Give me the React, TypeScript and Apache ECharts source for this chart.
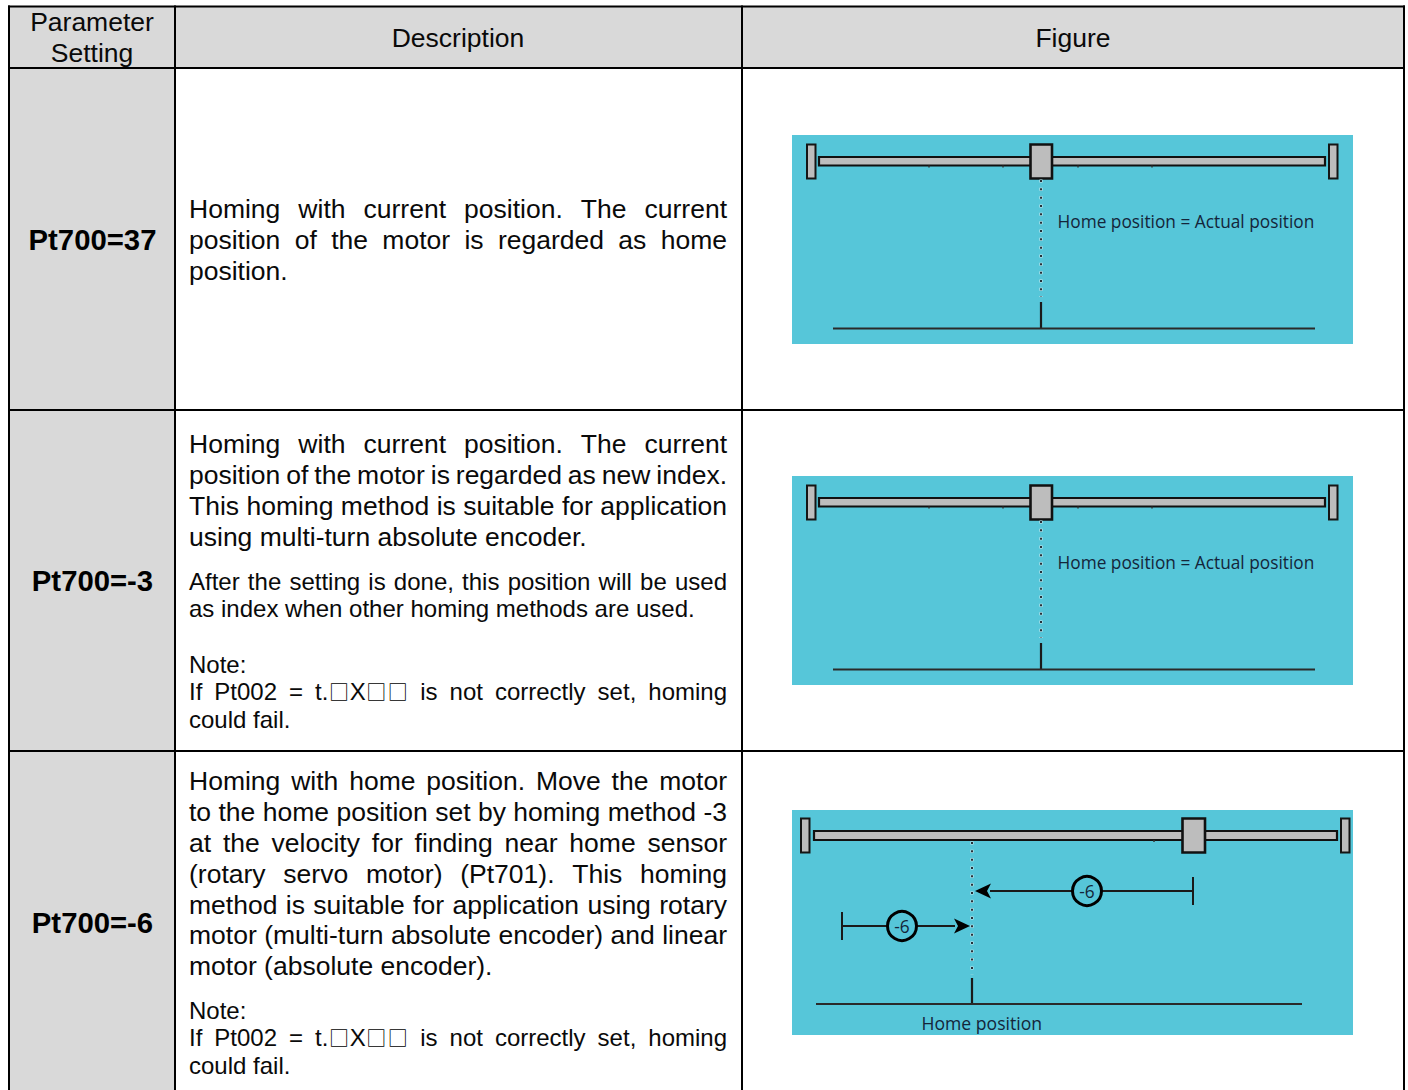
import React, { useEffect, useRef } from "react";
import * as echarts from "echarts";

const headers = ["Description", "Figure"];
const headerFirst = ["Parameter", "Setting"];
const params = ["Pt700=37", "Pt700=-3", "Pt700=-6"];
const row1Text = [
  "Homing with current position. The current",
  "position of the motor is regarded as home",
  "position.",
];
const row2TextA = [
  "Homing with current position. The current",
  "position of the motor is regarded as new index.",
  "This homing method is suitable for application",
  "using multi-turn absolute encoder.",
];
const row2TextB = [
  "After the setting is done, this position will be used",
  "as index when other homing methods are used.",
];
const noteLines = ["Note:", "If Pt002 = t.□X□□ is not correctly set, homing", "could fail."];
const row3Text = [
  "Homing with home position. Move the motor",
  "to the home position set by homing method -3",
  "at the velocity for finding near home sensor",
  "(rotary servo motor) (Pt701). This homing",
  "method is suitable for application using rotary",
  "motor (multi-turn absolute encoder) and linear",
  "motor (absolute encoder).",
];
const figLabelA = "Home position = Actual position";
const figLabelB = "Home position";
const arrowLabel = "-6";

const FONT = '"Liberation Sans", sans-serif';
const BOXFONT = '"Noto Sans CJK SC", sans-serif';
const FIGFONT = '"Open Sans", sans-serif';
const GRAY = "#d9d9d9";
const LINE = "#000";
const TEAL = "#56c6d9";
const STEEL = "#bdbdbd";
const BOXSIZE = 20;
const BOXADV = 21.3;

const ctx = document.createElement("canvas").getContext("2d")!;
function width(s: string, size: number) {
  let total = 0;
  ctx.font = `${size}px ${FONT}`;
  s.split(/(□)/).forEach((run) => {
    if (run === "□") total += BOXADV;
    else if (run) total += ctx.measureText(run).width;
  });
  return total;
}

const L = 189;
const R = 727;

function txt(x: number, y: number, s: string, size: number, opts: any = {}) {
  return {
    type: "text",
    x,
    y,
    silent: true,
    style: {
      text: s,
      fontSize: size,
      fontFamily: FONT,
      fill: "#0a0a0a",
      textAlign: "left",
      textVerticalAlign: "middle",
      verticalAlign: "middle",
      ...opts,
    },
  };
}

function word(x0: number, y: number, w: string, size: number) {
  if (!w.includes("□")) return [txt(x0, y, w, size)];
  const out: any[] = [];
  let x = x0;
  w.split(/(□)/).forEach((run) => {
    if (run === "□") {
      out.push(txt(x + (BOXADV - BOXSIZE) / 2, y, run, BOXSIZE, { fontFamily: BOXFONT, fill: "#000" }));
      x += BOXADV;
    } else if (run) {
      out.push(txt(x, y, run, size));
      x += width(run, size);
    }
  });
  return out;
}

function para(lines: string[], ys: number[], size: number, lastFree = true) {
  const out: any[] = [];
  lines.forEach((line, i) => {
    const free = lastFree && i === lines.length - 1;
    if (free || !line.includes(" ")) {
      out.push(txt(L, ys[i], line, size));
      return;
    }
    const words = line.split(" ");
    const total = words.reduce((a, w) => a + width(w, size), 0);
    const gap = (R - L - total) / (words.length - 1);
    let x = L;
    words.forEach((w) => {
      out.push(...word(x, ys[i], w, size));
      x += width(w, size) + gap;
    });
  });
  return out;
}

function rect(x0: number, y0: number, x1: number, y1: number, fill: string, stroke?: string, lw = 2) {
  return {
    type: "rect",
    silent: true,
    shape: { x: x0, y: y0, width: x1 - x0, height: y1 - y0 },
    style: { fill, stroke: stroke ?? "none", lineWidth: stroke ? lw : 0 },
  };
}
function seg(x0: number, y0: number, x1: number, y1: number, stroke = "#1a1a1a", lw = 2) {
  return {
    type: "line",
    silent: true,
    shape: { x1: x0, y1: y0, x2: x1, y2: y1 },
    style: { stroke, lineWidth: lw },
  };
}
function dots(x: number, y0: number, y1: number) {
  return [
    {
      type: "line",
      silent: true,
      shape: { x1: x, y1: y0 - 0.5, x2: x, y2: y1 },
      style: { stroke: "#cfeaef", lineWidth: 3, lineDash: [3, 5.33] },
    },
    {
      type: "line",
      silent: true,
      shape: { x1: x, y1: y0, x2: x, y2: y1 },
      style: { stroke: "#26323a", lineWidth: 2, lineDash: [2, 6.33] },
    },
  ];
}

function rail(dy: number, s: any) {
  const ticks = (s.ticks as number[]).map((x) => seg(x, s.by1 + dy, x, s.by1 + 2 + dy, "#333", 1.5));
  return [
    rect(s.lx0, s.sy0 + dy, s.lx1, s.sy1 + dy, STEEL, "#151515", 2),
    rect(s.rx0, s.sy0 + dy, s.rx1, s.sy1 + dy, STEEL, "#151515", 2),
    rect(s.bx0, s.by0 + dy, s.bx1, s.by1 + dy, STEEL, "#111", 2.2),
    ...ticks,
    rect(s.cx0, s.sy0 + dy, s.cx1, s.sy1 + dy, STEEL, "#111", 2.6),
  ];
}

function figText(x: number, y: number, s: string, align = "left", size = 17.3) {
  return {
    ...txt(x, y, s, size),
    style: { ...txt(0, 0, s, size).style, fontFamily: FIGFONT, fill: "#14253a", textAlign: align },
  };
}

function figure1(dy: number) {
  const hx = 1041;
  return [
    rect(792, 135 + dy, 1353, 344 + dy, TEAL),
    ...rail(dy, { lx0: 807, lx1: 815.5, rx0: 1329, rx1: 1337.5, bx0: 819, bx1: 1325, by0: 157, by1: 165.5, cx0: 1030.5, cx1: 1052, sy0: 144.5, sy1: 178.5, ticks: [929, 1003, 1078, 1152] }),
    ...dots(hx, 180 + dy, 297 + dy),
    seg(hx, 302 + dy, hx, 329 + dy, "#1a1a1a", 2.2),
    seg(833, 328.5 + dy, 1315, 328.5 + dy, "#2a2a2a", 2),
    figText(1057.5, 221.5 + dy, figLabelA),
  ];
}

function arrowRow(y: number, tickX: number, tipX: number, baseX: number, cx: number) {
  const dir = tipX > baseX ? 1 : -1;
  return [
    seg(tickX, y, baseX, y, "#1a1a1a", 2),
    seg(tickX, y - 14, tickX, y + 14, "#1a1a1a", 2),
    { type: "polygon", silent: true, shape: { points: [[tipX, y], [baseX - dir * 1, y - 7.5], [baseX + dir * 3, y], [baseX - dir * 1, y + 7.5]] }, style: { fill: "#000" } },
    { type: "circle", silent: true, shape: { cx, cy: y, r: 14.5 }, style: { fill: TEAL, stroke: "#000", lineWidth: 3 } },
    figText(cx, y, arrowLabel, "center"),
  ];
}

function figure3() {
  const hx = 972;
  return [
    rect(792, 810, 1353, 1035, TEAL),
    ...rail(0, { lx0: 801, lx1: 809.5, rx0: 1341, rx1: 1349.5, bx0: 814, bx1: 1337, by0: 831, by1: 840, cx0: 1182.5, cx1: 1205, sy0: 818.5, sy1: 852.5, ticks: [1154] }),
    ...dots(hx, 842, 975),
    seg(hx, 978, hx, 1005, "#1a1a1a", 2.2),
    seg(816, 1004, 1302, 1004, "#2a2a2a", 2),
    ...arrowRow(891, 1193, 975, 990, 1087),
    ...arrowRow(926, 842, 970, 955, 902),
    figText(921.5, 1023, figLabelB, "left", 17.6),
  ];
}

function tableCells() {
  const xs = [9, 175, 742, 1404];
  const ys = [6.5, 68, 410, 751];
  const out: any[] = [
    rect(9, 6.5, 1404, 68, GRAY),
    rect(9, 68, 175, 1090, GRAY),
    rect(175, 68, 1404, 1090, "#fff"),
  ];
  xs.forEach((x) => out.push(seg(x, 5.5, x, 1090, LINE, 2)));
  ys.forEach((y) => out.push(seg(8, y, 1405, y, LINE, 2)));
  return out;
}

function center(x: number, y: number, s: string, size: number, bold = false) {
  return txt(x, y, s, size, { textAlign: "center", fontWeight: bold ? "bold" : "normal", fill: bold ? "#000" : "#0a0a0a" });
}

export default function App() {
  const ref = useRef<HTMLDivElement>(null);
  useEffect(() => {
    document.body.style.margin = "0";
    const chart = echarts.init(ref.current!, null, { renderer: "svg", width: 1408, height: 1090 });
    const BODY = 26.5;
    const SMALL = 24;
    chart.setOption({
      animation: false,
      backgroundColor: "#fff",
      graphic: {
        elements: [
          ...tableCells(),
          center(92, 22, headerFirst[0], BODY),
          center(92, 53, headerFirst[1], BODY),
          center(458, 38, headers[0], BODY),
          center(1073, 38, headers[1], BODY),
          center(92.5, 239.5, params[0], 29.3, true),
          center(92.5, 580.5, params[1], 29.3, true),
          center(92.5, 922.5, params[2], 29.3, true),
          ...para(row1Text, [209, 240, 271], BODY),
          ...para(row2TextA, [444, 475, 506, 537], BODY),
          ...para(row2TextB, [581.5, 608.5], SMALL),
          ...para(noteLines.slice(0, 1), [664.5], SMALL),
          ...para(noteLines.slice(1), [691.5, 719.5], SMALL),
          ...para(row3Text, [781, 812, 843, 874, 905, 935, 966], BODY),
          ...para(noteLines.slice(0, 1), [1010.5], SMALL),
          ...para(noteLines.slice(1), [1037.5, 1065.5], SMALL),
          ...figure1(0),
          ...figure1(341),
          ...figure3(),
        ],
      },
    });
    return () => chart.dispose();
  }, []);
  return <div ref={ref} style={{ width: 1408, height: 1090, position: "absolute", left: 0, top: 0, overflow: "hidden" }} />;
}
